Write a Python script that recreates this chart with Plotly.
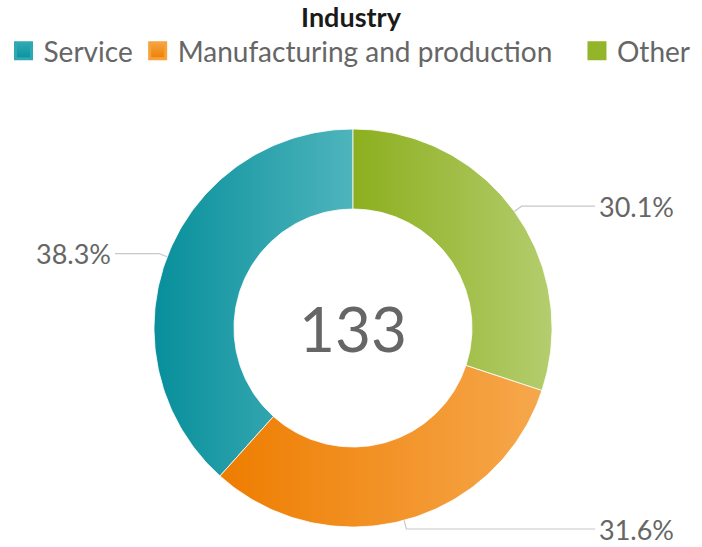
import numpy as np
import plotly.graph_objects as go

# Industry breakdown of respondents
categories = ["Service", "Manufacturing and production", "Other"]
counts = [51, 42, 40]

# Horizontal gradient for each slice: (left colour, right colour)
left_colors = ["#078F9B", "#EE7D00", "#8CAF1E"]
right_colors = ["#4EB4BC", "#F6A74C", "#B4CD6E"]
# legend swatches: (top colour, bottom colour)
swatch_top = ["#2FA8B2", "#F5A23F", "#93B52A"]
swatch_bottom = ["#08939F", "#EF8000", "#93B52A"]

W, H = 702, 547
CX, CY = 353, 219          # donut centre, pixels from the left / bottom edge
R_OUT, R_IN = 199, 119
FONT = "Lato"
GREY = "#666666"

total = sum(counts)
fracs = [c / total for c in counts]

fig = go.Figure()

# slices are laid out counter-clockwise starting from 12 o'clock
start = 0.0
bounds = []
for f in fracs:
    end = start - f * 2 * np.pi
    bounds.append((start, end))
    start = end


def arc(r, a0, a1):
    n = max(int(abs(a1 - a0) / (2 * np.pi) * 360), 2)
    t = np.linspace(a0, a1, n)
    return r * np.sin(t), r * np.cos(t)


for name, (a0, a1), lc, rc in zip(categories, bounds, left_colors, right_colors):
    xo, yo = arc(R_OUT, a0, a1)
    xi, yi = arc(R_IN, a1, a0)
    xs = np.concatenate([xo, xi, xo[:1]])
    ys = np.concatenate([yo, yi, yo[:1]])
    fig.add_trace(go.Scatter(
        x=xs, y=ys, mode="lines", fill="toself",
        line=dict(color="white", width=0.8),
        fillgradient=dict(type="horizontal", colorscale=[[0, lc], [1, rc]]),
        showlegend=False, hoverinfo="skip", name=name,
    ))

# legend entries (square swatches with a vertical gradient)
for i, (name, tc, bc) in enumerate(zip(categories, swatch_top, swatch_bottom)):
    fig.add_trace(go.Scatter(
        x=[None], y=[None], mode="markers", name=name,
        marker=dict(symbol="square", size=16, color=tc,
                    line=dict(color=tc, width=3),
                    gradient=dict(type="vertical", color=bc)),
        legend="legend2" if i == 2 else "legend",
    ))

# outside percentage labels with elbow leader lines
for f, (a0, a1) in zip(fracs, bounds):
    am = (a0 + a1) / 2
    dx, dy = np.sin(am), np.cos(am)
    side = 1 if dx >= 0 else -1
    p0 = (R_OUT * dx, R_OUT * dy)
    p1 = ((R_OUT + 9) * dx, (R_OUT + 9) * dy)
    x_end = 242 if side > 0 else -238
    fig.add_trace(go.Scatter(
        x=[p0[0], p1[0], x_end], y=[p0[1], p1[1], p1[1]], mode="lines",
        line=dict(color="#C8C8C8", width=1.2), showlegend=False, hoverinfo="skip",
    ))
    fig.add_annotation(
        x=x_end + side * 2, y=p1[1], text=f"{f * 100:.1f}%", showarrow=False,
        xanchor="left" if side > 0 else "right", yanchor="middle",
        font=dict(family=FONT, size=27, color=GREY),
    )

# total in the middle of the ring
fig.add_annotation(x=0, y=0, text=str(total), showarrow=False,
                   xanchor="center", yanchor="middle",
                   font=dict(family=FONT, size=62, color=GREY))

fig.update_layout(
    width=W, height=H,
    margin=dict(l=0, r=0, t=0, b=0),
    paper_bgcolor="white", plot_bgcolor="white",
    xaxis=dict(range=[-CX, W - CX], visible=False, fixedrange=True),
    yaxis=dict(range=[-CY, H - CY], visible=False, fixedrange=True),
    title=dict(text="<b>Industry</b>", x=0.5, xanchor="center",
               y=1 - 18 / H, yanchor="middle", yref="container",
               font=dict(family=FONT, size=27, color="#1A1A1A")),
    legend=dict(orientation="h", x=0.005, xanchor="left", y=1 - 26 / H, yanchor="top",
                font=dict(family=FONT, size=28, color=GREY), bgcolor="rgba(0,0,0,0)"),
    legend2=dict(orientation="h", x=0.99, xanchor="right", y=1 - 26 / H, yanchor="top",
                 font=dict(family=FONT, size=28, color=GREY), bgcolor="rgba(0,0,0,0)"),
    showlegend=True,
)

fig.write_html("out.html")
